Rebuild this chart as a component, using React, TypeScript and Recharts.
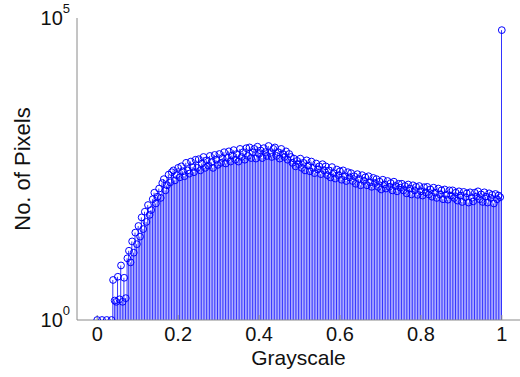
import { Bar, ComposedChart, Scatter, XAxis, YAxis } from "recharts";

const FONT = "'Liberation Sans', Arial, sans-serif";
const BLUE = "#0000ff";
const AXIS = "#8a8a8a";

// pixel counts per gray level (256 bins), null = empty bin
const counts: (number | null)[] = [
  1, null, null, 1, null, null, 1, null, null, 1, 4.6, 2.1, 2, 5.2, 2.2, 8,
  2, 5, 2.3, 10.5, 14, 9, 20, 13, 28, 18, 36, 24, 50, 32, 62, 42,
  80, 55, 66, 100, 128, 85, 110, 150, 105, 185, 215, 140, 170, 255, 190, 280,
  300, 205, 250, 330, 230, 350, 290, 240, 400, 300, 265, 420, 340, 280, 450, 330,
  460, 300, 390, 500, 330, 440, 360, 520, 410, 330, 540, 450, 370, 560, 400, 480,
  600, 390, 480, 620, 420, 530, 650, 450, 560, 420, 680, 500, 600, 450, 700, 520,
  720, 480, 600, 680, 470, 740, 560, 640, 480, 700, 600, 520, 760, 580, 500, 680,
  720, 520, 600, 470, 680, 560, 500, 620, 450, 560, 500, 400, 470, 350, 430, 380,
  470, 330, 400, 300, 440, 360, 290, 420, 330, 270, 390, 310, 350, 260, 380, 300,
  350, 250, 300, 230, 340, 270, 220, 310, 250, 290, 210, 300, 240, 200, 280, 230,
  270, 200, 240, 180, 260, 215, 170, 250, 200, 230, 170, 240, 190, 160, 225, 185,
  215, 160, 195, 145, 210, 175, 150, 200, 160, 185, 140, 195, 165, 135, 180, 155,
  180, 140, 165, 125, 175, 150, 120, 170, 140, 160, 118, 165, 135, 115, 158, 130,
  160, 120, 145, 110, 155, 128, 105, 150, 120, 140, 100, 145, 118, 98, 140, 115,
  140, 105, 128, 95, 135, 115, 90, 132, 108, 125, 88, 130, 105, 92, 128, 110,
  135, 100, 120, 90, 130, 110, 88, 125, 105, 118, 85, 122, 100, 115, 108, 63000,
];

const xTicks = [0, 0.2, 0.4, 0.6, 0.8, 1];
const yTicks = [1, 100000];

const rows = counts.map((count, i) => ({ x: i / 255, count }));
const points = rows.filter((r) => r.count != null);

const Stem = (p: any) => {
  const { x, y, width, height } = p;
  if (![x, y, width, height].every(Number.isFinite)) return null;
  const cx = x + width / 2;
  return <line x1={cx} x2={cx} y1={y} y2={y + height} stroke={BLUE} strokeWidth={1} strokeOpacity={0.8} />;
};

const Ring = (p: any) => {
  if (!Number.isFinite(p.cx) || !Number.isFinite(p.cy)) return null;
  return <circle cx={p.cx} cy={p.cy} r={3.4} fill="none" stroke={BLUE} strokeWidth={1} />;
};

const YTick = (p: any) => {
  const exp = Math.round(Math.log10(p.payload.value));
  return (
    <text x={p.x + 1} y={p.y} textAnchor="end" fill="#111" fontFamily={FONT} fontSize={20}>
      <tspan dy="0.36em">10</tspan>
      <tspan dy={-12} fontSize={13}>{exp}</tspan>
    </text>
  );
};

export default function App() {
  return (
    <div style={{ position: "absolute", left: 0, top: 0, width: 520, height: 377, background: "#fff" }}>
      <ComposedChart width={520} height={377} data={rows} margin={{ top: 18, right: 0, bottom: 0, left: 0 }}>
        <XAxis
          dataKey="x"
          type="number"
          domain={[-0.05, 1.045]}
          allowDataOverflow
          ticks={xTicks}
          height={57}
          stroke={AXIS}
          tickSize={-5}
          tickMargin={12}
          tick={{ fill: "#111", fontSize: 20, fontFamily: FONT }}
          label={(props: any) => {
            const vb = props.viewBox;
            return (
              <text x={vb.x + vb.width / 2} y={vb.y + 45} textAnchor="middle" fill="#111" fontFamily={FONT} fontSize={21}>
                Grayscale
              </text>
            );
          }}
        />
        <XAxis
          xAxisId="top"
          orientation="top"
          dataKey="x"
          type="number"
          domain={[-0.05, 1.045]}
          allowDataOverflow
          ticks={xTicks}
          height={0}
          stroke={AXIS}
          tickSize={-5}
          tick={false}
        />
        <YAxis
          type="number"
          scale="log"
          domain={[1, 100000]}
          allowDataOverflow
          ticks={yTicks}
          width={77}
          stroke={AXIS}
          tickLine={false}
          tick={<YTick />}
          label={(props: any) => {
            const vb = props.viewBox;
            const cy = vb.y + vb.height / 2;
            return (
              <text x={22} y={cy} transform={`rotate(-90, 22, ${cy})`} textAnchor="middle" dominantBaseline="central" fill="#111" fontFamily={FONT} fontSize={22}>
                No. of Pixels
              </text>
            );
          }}
        />
        <Bar dataKey="count" barSize={1} shape={<Stem />} isAnimationActive={false} />
        <Scatter data={points} dataKey="count" shape={<Ring />} isAnimationActive={false} />
      </ComposedChart>
    </div>
  );
}
